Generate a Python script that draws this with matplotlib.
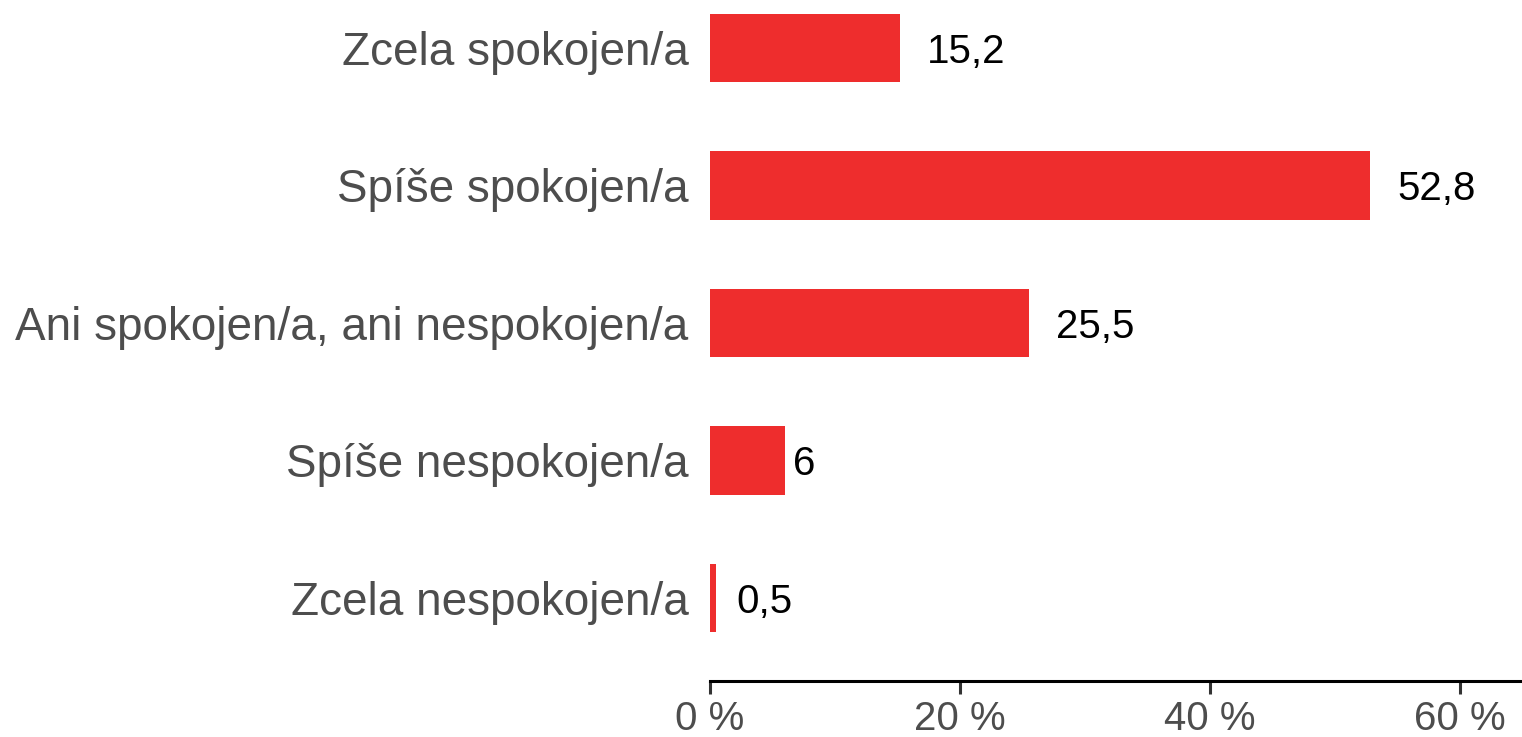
import matplotlib
matplotlib.use("Agg")
import matplotlib.pyplot as plt
from matplotlib.ticker import FuncFormatter

categories = ["Zcela spokojen/a", "Spíše spokojen/a", "Ani spokojen/a, ani nespokojen/a",
              "Spíše nespokojen/a", "Zcela nespokojen/a"]
values = [15.2, 52.8, 25.5, 6, 0.5]
value_labels = ["15,2", "52,8", "25,5", "6", "0,5"]
xticks = [0, 20, 40, 60]

plt.rcParams['font.family'] = ['Liberation Sans', 'DejaVu Sans']

fig = plt.figure(figsize=(15.22, 7.37), dpi=100)
ax = fig.add_axes([710 / 1522, 56 / 737, 812 / 1522, 681 / 737])

pos = list(range(len(categories)))
ax.barh(pos, values, height=0.5, color="#EE2D2D")

# label sits right of the bar, nudged by a fraction of its own width (hjust-like)
renderer = fig.canvas.get_renderer()
for p, v, lab in zip(pos, values, value_labels):
    tmp = ax.text(0, 0, lab, fontsize=29)
    w = tmp.get_window_extent(renderer=renderer).width
    tmp.remove()
    ax.annotate(lab, (v, p), xytext=(0.35 * w, 0), textcoords="offset pixels",
                va="center_baseline", ha="left", fontsize=29, color="black")

ax.set_xlim(0, 65)
ax.set_ylim(4.604, -0.349)
ax.set_yticks(pos)
ax.set_yticklabels(categories, fontsize=33, color="#4D4D4D")
ax.set_xticks(xticks)
ax.xaxis.set_major_formatter(FuncFormatter(lambda x, _: f"{int(x)} %"))
ax.tick_params(axis="x", labelsize=29, labelcolor="#4D4D4D", length=9, width=2.2,
               color="#333333", pad=5)
ax.tick_params(axis="y", length=0, pad=15.5)

for s in ["top", "right", "left"]:
    ax.spines[s].set_visible(False)
ax.spines["bottom"].set_linewidth(2.2)
ax.spines["bottom"].set_color("black")

fig.savefig("out.png", dpi=100)
